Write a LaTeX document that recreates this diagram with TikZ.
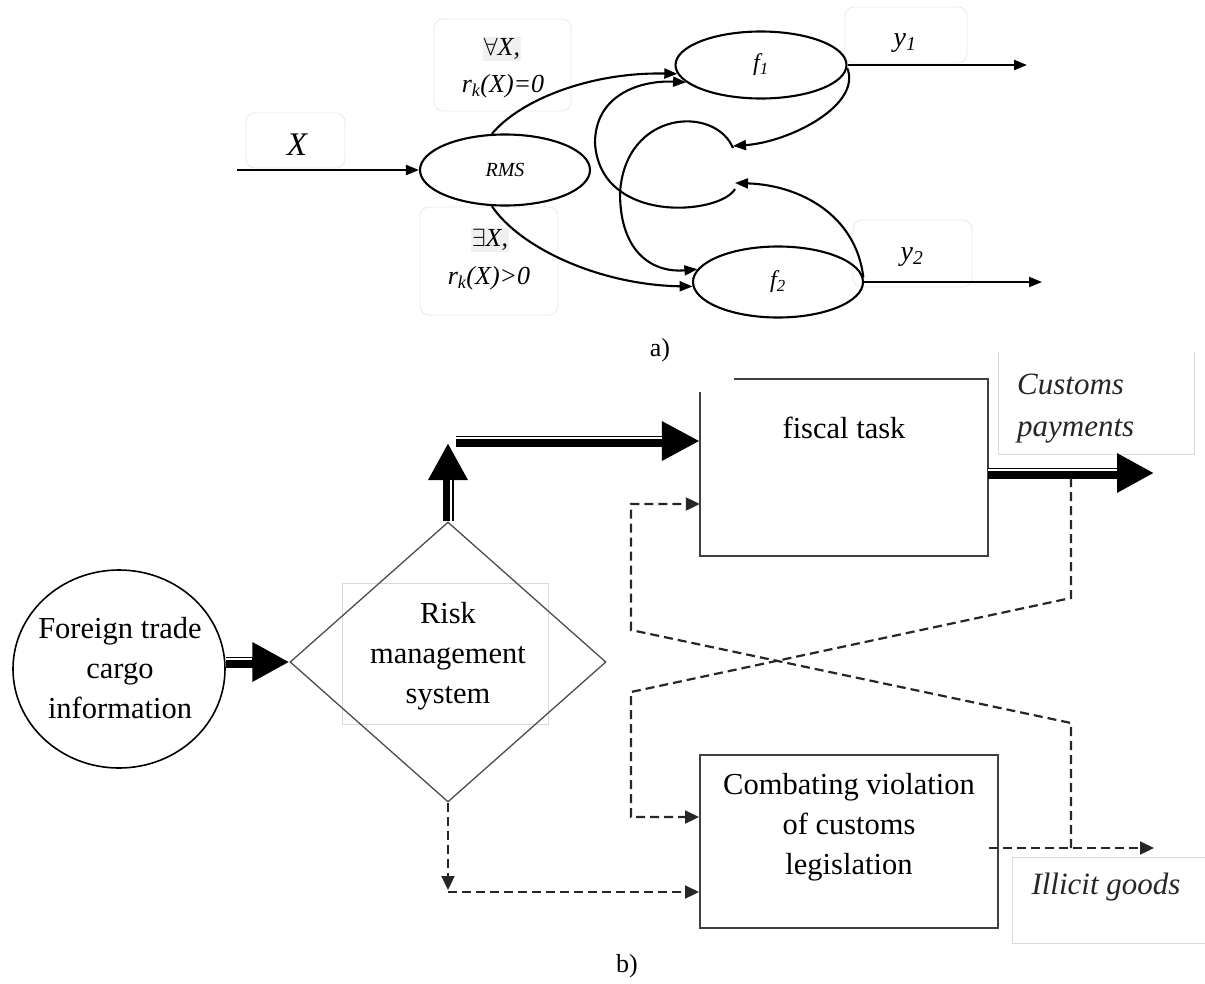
\documentclass[tikz,border=0pt]{standalone}
\usepackage{fontspec}
\setmainfont{Liberation Serif}
\usetikzlibrary{arrows.meta,shapes.geometric,calc}
\begin{document}
\begin{tikzpicture}[x=1pt,y=-1pt,
  lbl/.style={draw=black!9, rounded corners=9pt, line width=0.8pt},
  ell/.style={ellipse, draw, line width=2.1pt, inner sep=0pt},
  arr/.style={line width=2.1pt, -{Triangle[length=13pt,width=10pt]}},
  big/.style={line width=11pt, -{Triangle[length=37pt,width=37pt]}},
  stripe/.style={white, line width=2pt},
  dsh/.style={line width=2.2pt, black!85, dash pattern=on 9pt off 5pt},
  dar/.style={dsh, -{Triangle[length=14pt,width=13pt]}},
  box/.style={draw=black!75, line width=2pt},
  faint/.style={draw=black!15, line width=0.8pt},
  txt/.style={font=\fontsize{30.5}{40}\selectfont, align=center, inner sep=0pt},
  itxt/.style={font=\fontsize{31}{42}\selectfont\itshape, text=black!85, inner sep=0pt},
  hl/.style={fill=black!6, inner sep=1pt},
  atxt/.style={font=\fontsize{26}{26}\selectfont\itshape, inner sep=0pt},
]
\useasboundingbox (0,0) rectangle (1205,983);

% ---------------- part a ----------------
\draw[lbl] (246,113) rectangle (345,168);
\draw[lbl] (434,19) rectangle (571,111);
\draw[lbl] (420,207) rectangle (558,315);
\draw[lbl] (845,7) rectangle (967,63);
\draw[lbl] (853,220) rectangle (972,287);

\node[font=\fontsize{33}{33}\selectfont\itshape, inner sep=0pt] (tX) at (297,145) {X};
\node[hl, atxt, inner sep=1pt] (tall) at (502,49) {$\forall$X,};
\node[atxt] (tr0) at (503,86) {r\textsubscript{k}(X)=0};
\node[hl, atxt, inner sep=1pt] (tex) at (490,240) {$\exists$X,};
\node[atxt] (tr1) at (489,278) {r\textsubscript{k}(X)>0};
\node[font=\fontsize{28}{28}\selectfont\itshape, inner sep=0pt] (ty1) at (905,43) {y\textsubscript{1}};
\node[font=\fontsize{28}{28}\selectfont\itshape, inner sep=0pt] (ty2) at (912,257) {y\textsubscript{2}};

\node[ell, minimum width=170pt, minimum height=71pt, font=\fontsize{20}{20}\selectfont\itshape] (rms) at (505,170) {RMS};
\node[ell, minimum width=171pt, minimum height=67pt, font=\fontsize{24}{24}\selectfont\itshape] (f1) at (761,65) {f\textsubscript{1}};
\node[ell, minimum width=170pt, minimum height=71pt, font=\fontsize{24}{24}\selectfont\itshape] (f2) at (778,282) {f\textsubscript{2}};

\coordinate (xin) at (237,170);
\coordinate (y1e) at (1027,65);
\coordinate (y2e) at (1042,282);
\coordinate (m1) at (733,146);
\coordinate (m1b) at (733,148);
\coordinate (m2) at (735,183);
\coordinate (m2b) at (735,189);
\coordinate (cl1) at (620,193);
\coordinate (cl2) at (595,143);

\draw[arr] (xin) -- (rms.west);
\draw[arr] (f1.east) -- (y1e);
\draw[arr] (f2.east) -- (y2e);
\draw[arr] (rms.110) .. controls (520,100) and (590,72) .. (f1.186);
\draw[arr] (rms.250) .. controls (520,248) and (600,285) .. (f2.183);
\draw[arr] (f1.358) .. controls (862,105) and (790,142) .. (m1);
\draw[arr] (f2.3) .. controls (856,215) and (800,185) .. (m2);
\draw[arr] (m1b) .. controls (715,105) and (625,110) .. (cl1)
           .. controls (620,255) and (655,273) .. (f2.171);
\draw[arr] (m2b) .. controls (720,215) and (600,225) .. (cl2)
           .. controls (595,95) and (640,80) .. (f1.193);

\node[font=\fontsize{26}{26}\selectfont, inner sep=0pt] (la) at (660,350) {a)};

% ---------------- part b ----------------
\draw[faint] (342,583) rectangle (548,724);
\draw[faint] (998,352) -- (998,454) -- (1194,454) -- (1194,352);
\draw[faint] (1205,857) -- (1012,857) -- (1012,943) -- (1205,943);

\node[ellipse, draw, line width=1.6pt, minimum width=212pt, minimum height=198pt] (circ) at (119,669) {};
\node[diamond, draw=black!70, line width=1.3pt, minimum width=316pt, minimum height=280pt, shape aspect=1.1286, inner sep=0pt] (dia) at (448,662) {};
\node[minimum width=288pt, minimum height=177pt, inner sep=0pt] (fis) at (844,467.5) {};
\node[box, minimum width=298pt, minimum height=173pt, inner sep=0pt] (comb) at (849,841.5) {};

\draw[box] ($(fis.north west)+(34,0)$) -- (fis.north east) -- (fis.south east)
  -- (fis.south west) -- ($(fis.north west)+(0,13)$);

\node[txt] (tcirc) at (120,668) {Foreign trade\\cargo\\information};
\node[txt] (trisk) at (448,656) {Risk\\management\\system};
\node[txt] (tfis) at (844,428) {fiscal task};
\node[itxt, align=left, anchor=west] (tcus) at (1017,409) {Customs\\payments};
\node[txt] (tcomb) at (849,827) {Combating violation\\of customs\\legislation};
\node[itxt] (till) at (1106,887) {Illicit goods};
\node[font=\fontsize{26}{26}\selectfont, inner sep=0pt] (lb) at (627,966) {b)};

% thick double arrows
\coordinate (upTip) at (448,443);
\coordinate (hs) at (456,441);
\coordinate (outTip) at (1154,473);
\draw[big] (circ.east |- dia.west) -- (dia.west);
\draw[stripe] ($(circ.east |- dia.west)+(0,-3.3)$) -- ($(dia.west)+(-37,-3.3)$);
\draw[big] (dia.north) -- (upTip);
\draw[stripe] ($(dia.north)+(3.3,0)$) -- ($(upTip)+(3.3,37)$);
\draw[big, -{Triangle[length=38pt,width=37pt]}] (hs) -- (fis.west |- hs);
\draw[stripe] ($(hs)+(0,-3.3)$) -- ($(fis.west |- hs)+(-38,-3.3)$);
\draw[big] (fis.east |- outTip) -- (outTip);
\draw[stripe] ($(fis.east |- outTip)+(0,-3.3)$) -- ($(outTip)+(-37,-3.3)$);

% dashed connectors
\coordinate (p1) at (1071,478);
\coordinate (p2) at (1071,598);
\coordinate (p3) at (631,692);
\coordinate (p4) at (631,817);
\coordinate (q1) at (1071,848);
\coordinate (q2) at (1071,723);
\coordinate (q3) at (631,630);
\coordinate (q4) at (631,504);
\coordinate (dn) at (448,890);
\coordinate (dh) at (448,892);
\coordinate (ill) at (1154,848);

\draw[dar] (p1) -- (p2) -- (p3) -- (p4) -- (comb.west |- p4);
\draw[dar] (q1) -- (q2) -- (q3) -- (q4) -- (fis.west |- q4);
\draw[dar] ($(comb.east |- ill)+(-10,0)$) -- (ill);
\draw[dar] (dia.south) -- (dn);
\draw[dar] (dh) -- (comb.west |- dh);
\end{tikzpicture}
\end{document}
